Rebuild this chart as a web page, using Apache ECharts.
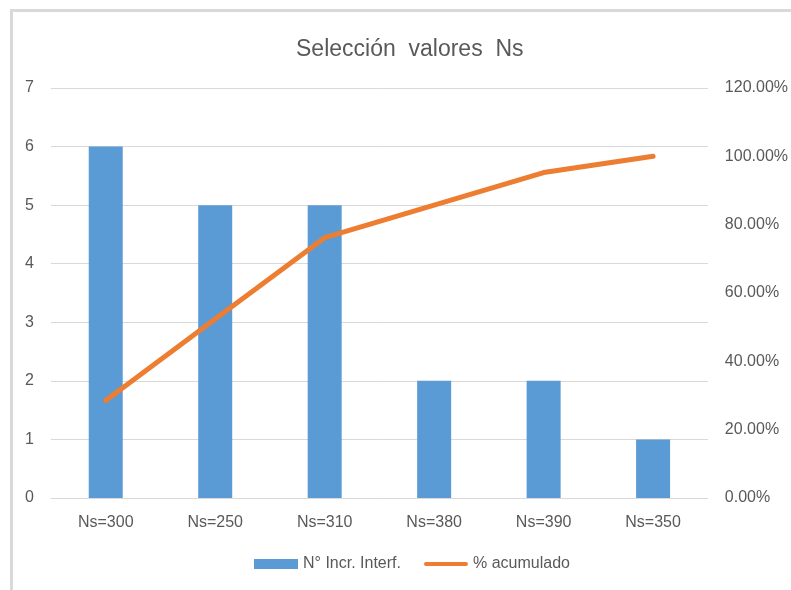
<!DOCTYPE html>
<html><head><meta charset="utf-8">
<script src="https://cdn.jsdelivr.net/npm/echarts@6/dist/echarts.min.js"></script>
<style>html,body{margin:0;padding:0;background:#fff}#c{width:791px;height:590px}</style>
</head><body><div id="c"></div>
<script>
const categories = ['Ns=300','Ns=250','Ns=310','Ns=380','Ns=390','Ns=350'];
const incrInterf = [6,5,5,2,2,1];
const acumulado = [0.2857,0.5238,0.7619,0.8571,0.9524,1.0];
const leftTicks = [0,1,2,3,4,5,6,7];
const rightTicks = [0,0.2,0.4,0.6,0.8,1.0,1.2];

const FONT = '"Liberation Sans",Arial,sans-serif';
const chart = echarts.init(document.getElementById('c'));
chart.setOption({
  animation:false,
  textStyle:{fontFamily:FONT},
  graphic:[{type:'rect',shape:{x:11.5,y:10.5,width:900,height:700},style:{fill:'none',stroke:'#d9d9d9',lineWidth:3},silent:true}],
  title:{text:'Selección  valores  Ns',left:291,top:33,textStyle:{fontFamily:FONT,fontSize:23,fontWeight:'normal',color:'#595959'}},
  grid:{left:51,right:83,top:88,bottom:92},
  legend:{top:551,left:249,itemGap:23,textStyle:{fontFamily:FONT,fontSize:16,color:'#595959'},
    data:[{name:'N° Incr. Interf.',icon:'rect',itemStyle:{color:'#5B9BD5'}},
          {name:'% acumulado',icon:'path://M2,0 L42,0 A2,2 0 0 1 42,4 L2,4 A2,2 0 0 1 2,0 Z',itemStyle:{color:'#ED7D31'}}],
    itemWidth:44,itemHeight:10},
  xAxis:{type:'category',data:categories,
    axisLine:{show:true,lineStyle:{color:'#d9d9d9'}},axisTick:{show:false},
    axisLabel:{fontFamily:FONT,fontSize:16,color:'#595959',margin:17}},
  yAxis:[
    {type:'value',min:leftTicks[0],max:leftTicks[leftTicks.length-1],interval:1,
     axisLine:{show:false},axisTick:{show:false},
     splitLine:{lineStyle:{color:'#d9d9d9',width:1}},
     axisLabel:{fontFamily:FONT,fontSize:16,color:'#595959',margin:17}},
    {type:'value',min:rightTicks[0],max:rightTicks[rightTicks.length-1],interval:0.2,
     axisLine:{show:false},axisTick:{show:false},splitLine:{show:false},
     axisLabel:{fontFamily:FONT,fontSize:16,color:'#595959',margin:17,
       formatter:v=>(v*100).toFixed(2)+'%'}}
  ],
  series:[
    {name:'N° Incr. Interf.',type:'bar',data:incrInterf,barWidth:34,itemStyle:{color:'#5B9BD5'}},
    {name:'% acumulado',type:'line',yAxisIndex:1,data:acumulado,symbol:'none',
     lineStyle:{color:'#ED7D31',width:5,cap:'round',join:'round'},itemStyle:{color:'#ED7D31'}}
  ]
});
</script></body></html>
